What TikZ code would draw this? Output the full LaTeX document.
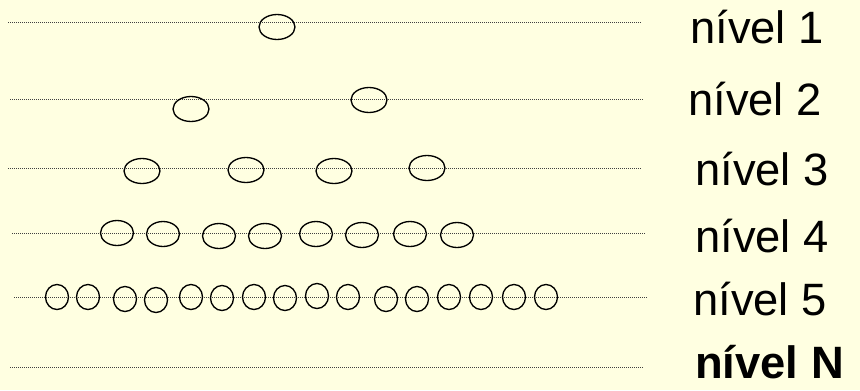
\documentclass[tikz,border=0pt]{standalone}
\usepackage{fontspec}
\setmainfont{Liberation Sans}
\usetikzlibrary{shapes.geometric}
\definecolor{paper}{HTML}{FFFFE1}
\definecolor{rule}{HTML}{404040}

\begin{document}
\begin{tikzpicture}[x=0.75pt, y=-0.75pt,
    level/.style={rule, densely dotted, line width=0.5pt},
    cell/.style={draw, ellipse, line width=1pt, inner sep=0pt,
                 minimum width=27pt, minimum height=18.75pt},
    cellB/.style={cell, minimum width=24.75pt},
    cellC/.style={cell, minimum width=17.25pt},
    tag/.style={anchor=base west, inner sep=0pt, font=\fontsize{34}{40}\selectfont}]
  % background and size
  \fill[paper] (0,0) rectangle (860,390);
  \useasboundingbox (0,0) rectangle (860,390);

  % dotted level lines
  \draw[level] (8,22) -- (641,22);
  \draw[level] (10,99) -- (643,99);
  \draw[level] (8,168) -- (642,168);
  \draw[level] (12,233) -- (645,233);
  \draw[level] (14,297) -- (648,297);
  \draw[level] (10,367) -- (644,367);

  % level 1 and 2
  \node[cell] (n1a) at (277,27) {};
  \node[cell] (n2a) at (191,109) {};
  \node[cell] (n2b) at (369,100) {};

  % level 3
  \node[cell] (n3a) at (142,171) {};
  \node[cell] (n3b) at (246,170) {};
  \node[cell] (n3c) at (334,171) {};
  \node[cell] (n3d) at (427,168) {};

  % level 4
  \foreach \x/\y [count=\i] in {117/233, 163/234, 219/236, 265/236,
                                316/234, 362/235, 410/234, 457/235}
    \node[cellB] (n4-\i) at (\x,\y) {};

  % level 5
  \foreach \x/\y [count=\i] in {57/297, 88/297, 125/299, 156/300,
                                191/297, 222/298, 254/297, 285/298,
                                317/296, 348/297, 386/299, 417/299,
                                449/297, 481/297, 514/297, 546/297}
    \node[cellC] (n5-\i) at (\x,\y) {};

  % labels
  \node[tag] (t1) at (690,43) {nível 1};
  \node[tag] (t2) at (688,115) {nível 2};
  \node[tag] (t3) at (695,185) {nível 3};
  \node[tag] (t4) at (695,252) {nível 4};
  \node[tag] (t5) at (693,315) {nível 5};
  \node[tag, font=\fontsize{34}{40}\selectfont\bfseries] (tN) at (695,378) {nível N};
\end{tikzpicture}
\end{document}
